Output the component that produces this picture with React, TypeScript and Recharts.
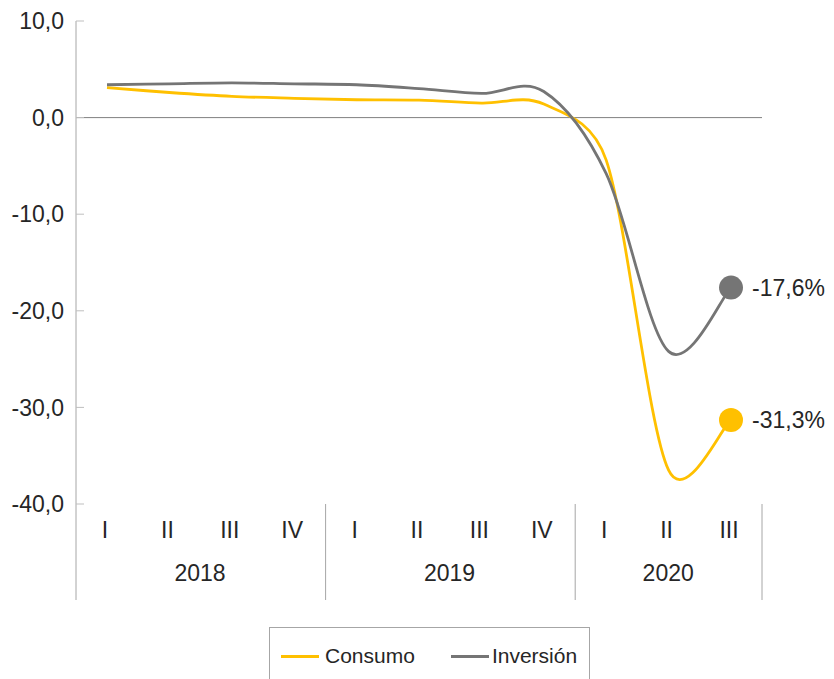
import React from 'react';
import { LineChart, Line, XAxis, YAxis, ReferenceLine, Legend } from 'recharts';

// Quarterly growth, % year on year
const quarters = ['I', 'II', 'III', 'IV', 'I', 'II', 'III', 'IV', 'I', 'II', 'III'];
const years = ['2018', '2018', '2018', '2018', '2019', '2019', '2019', '2019', '2020', '2020', '2020'];
const consumo = [3.1, 2.6, 2.2, 2.0, 1.85, 1.8, 1.5, 1.4, -4.4, -36.5, -31.3];
const inversion = [3.4, 3.5, 3.6, 3.5, 3.4, 3.0, 2.5, 2.7, -5.8, -24.2, -17.6];
const yTicks = [10, 0, -10, -20, -30, -40];

const data = quarters.map((q, i) => ({
  key: `${years[i]}-${q}`,
  q,
  year: years[i],
  consumo: consumo[i],
  inversion: inversion[i],
}));

const FONT = '"Liberation Sans", Arial, sans-serif';
const TEXT = '#262626';
const AXIS = '#a6a6a6';
const YELLOW = '#ffc000';
const GRAY = '#757575';
const X_PAD = 31; // half the gap between two quarters
const AXIS_DEPTH = 96;

const fmt = (v: number) => v.toFixed(1).replace('.', ',');

// Smoothed line through every point: cubic beziers with Catmull-Rom tangents,
// each control arm capped at half the length of its own segment
function smoothCurve(context: any) {
  let pts: [number, number][] = [];
  const dist = (a: number[], b: number[]) => Math.hypot(b[0] - a[0], b[1] - a[1]);
  const arm = (from: number[], to: number[], seg: number) => {
    const d = dist(from, to);
    if (d === 0) return [0, 0];
    const len = Math.min(d / 6, seg / 2);
    return [((to[0] - from[0]) / d) * len, ((to[1] - from[1]) / d) * len];
  };
  return {
    areaStart() {},
    areaEnd() {},
    lineStart() {
      pts = [];
    },
    point(x: number, y: number) {
      pts.push([+x, +y]);
    },
    lineEnd() {
      const n = pts.length;
      if (!n) return;
      context.moveTo(pts[0][0], pts[0][1]);
      for (let i = 0; i < n - 1; i++) {
        const p0 = pts[Math.max(i - 1, 0)];
        const p1 = pts[i];
        const p2 = pts[i + 1];
        const p3 = pts[Math.min(i + 2, n - 1)];
        const seg = dist(p1, p2);
        const a1 = arm(p0, p2, seg);
        const a2 = arm(p1, p3, seg);
        context.bezierCurveTo(p1[0] + a1[0], p1[1] + a1[1], p2[0] - a2[0], p2[1] - a2[1], p2[0], p2[1]);
      }
    },
  };
}

function YTick({ x, y, payload }: any) {
  return (
    <g>
      <text x={x} y={y} dy="0.355em" textAnchor="end" fill={TEXT} fontSize={23} fontFamily={FONT}>
        {fmt(payload.value)}
      </text>
      <line x1={x + 12} x2={x + 20} y1={y} y2={y} stroke="#bfbfbf" strokeWidth={1} />
    </g>
  );
}

function QuarterTick({ x, y, payload }: any) {
  const i = data.findIndex((d) => d.key === payload.value);
  const row = data[i];
  const first = i === 0 || data[i - 1].year !== row.year;
  const last = i === data.length - 1;
  const count = data.filter((d) => d.year === row.year).length;
  return (
    <g>
      <text x={x} y={y + 26} dx={-2} dy="0.355em" textAnchor="middle" fill={TEXT} fontSize={23} fontFamily={FONT}>
        {row.q}
      </text>
      {first && (
        <>
          <line x1={x - X_PAD} x2={x - X_PAD} y1={y} y2={y + AXIS_DEPTH} stroke={AXIS} />
          <text
            x={x + (count - 1) * X_PAD}
            y={y + 69}
            dy="0.355em"
            textAnchor="middle"
            fill={TEXT}
            fontSize={23}
            fontFamily={FONT}
          >
            {row.year}
          </text>
        </>
      )}
      {last && <line x1={x + X_PAD} x2={x + X_PAD} y1={y} y2={y + AXIS_DEPTH} stroke={AXIS} />}
    </g>
  );
}

// only the latest quarter gets a marker and its value
const endDot = (color: string) => (props: any) => {
  const { cx, cy, index, value } = props;
  if (index !== data.length - 1) return <g key={`dot-${index}`} />;
  return (
    <g key={`dot-${index}`}>
      <circle cx={cx} cy={cy} r={12} fill={color} stroke="none" />
      <text x={cx + 21} y={cy} dy="0.355em" fill={TEXT} fontSize={23} fontFamily={FONT}>
        {fmt(value)}%
      </text>
    </g>
  );
};

function LegendBox({ payload }: any) {
  return (
    <div
      style={{
        boxSizing: 'border-box',
        width: 321,
        height: 60,
        border: `1px solid ${AXIS}`,
        display: 'flex',
        alignItems: 'flex-start',
        paddingTop: 16,
        paddingLeft: 11,
        fontFamily: FONT,
        fontSize: 21,
        color: TEXT,
      }}
    >
      {(payload || []).map((item: any, i: number) => (
        <div key={item.value} style={{ display: 'flex', alignItems: 'center', marginLeft: i ? 36 : 0 }}>
          <span style={{ display: 'inline-block', width: 38, height: 3, background: item.color, marginRight: i ? 3 : 6 }} />
          <span>{item.value}</span>
        </div>
      ))}
    </div>
  );
}

export default function App() {
  return (
    <div style={{ position: 'absolute', left: 0, top: 0 }}>
      <LineChart width={834} height={679} data={data} margin={{ top: 21, right: 72, left: 0, bottom: 79 }}>
        <XAxis
          dataKey="key"
          interval={0}
          height={AXIS_DEPTH}
          padding={{ left: X_PAD, right: X_PAD }}
          axisLine={false}
          tickLine={false}
          tickSize={0}
          tickMargin={0}
          tick={<QuarterTick />}
        />
        <YAxis
          width={76}
          domain={[-40, 10]}
          ticks={yTicks}
          interval={0}
          axisLine={{ stroke: AXIS }}
          tickLine={false}
          tickSize={0}
          tickMargin={12}
          tick={<YTick />}
        />
        <ReferenceLine y={0} stroke="#808080" strokeWidth={1} />
        <Line
          dataKey="consumo"
          name="Consumo"
          type={smoothCurve as any}
          stroke={YELLOW}
          strokeWidth={2.8}
          dot={endDot(YELLOW)}
          activeDot={false}
          isAnimationActive={false}
        />
        <Line
          dataKey="inversion"
          name="Inversión"
          type={smoothCurve as any}
          stroke={GRAY}
          strokeWidth={2.8}
          dot={endDot(GRAY)}
          activeDot={false}
          isAnimationActive={false}
        />
        <Legend
          verticalAlign="middle"
          align="center"
          content={<LegendBox />}
          wrapperStyle={{ left: 269, top: 627, width: 321, height: 60 }}
        />
      </LineChart>
    </div>
  );
}
